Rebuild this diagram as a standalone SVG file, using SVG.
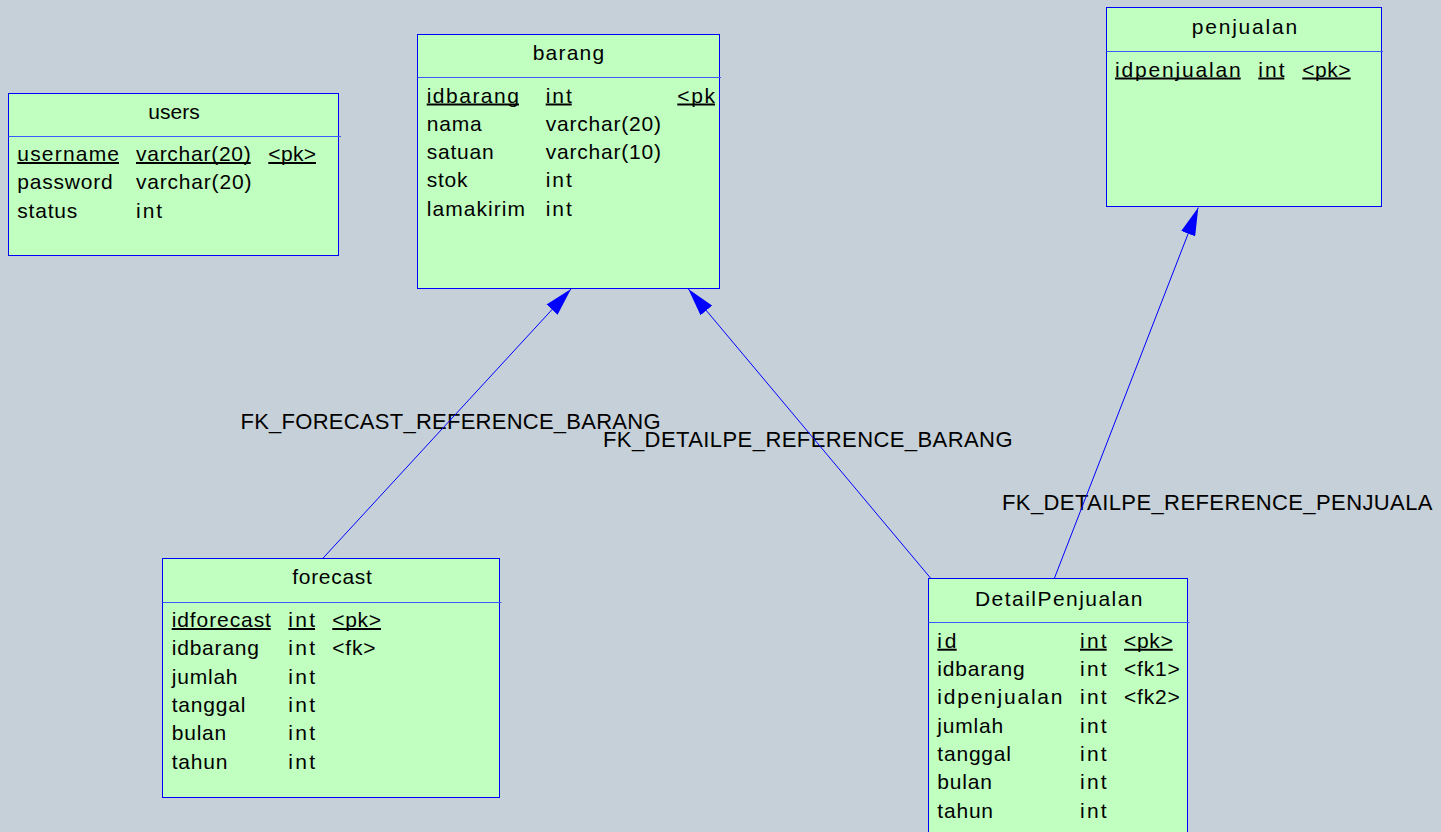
<svg xmlns="http://www.w3.org/2000/svg" width="1441" height="832" viewBox="0 0 1441 832">
  <defs>
    <style>
      .bg { fill: #C6D0D8; }
      .tbl { fill: #C0FFC0; stroke: #0000FF; stroke-width: 1; }
      .sep { stroke: #3A5CFF; stroke-width: 1; }
      .t { font-family: "Liberation Sans", Arial, sans-serif; font-size: 21px; fill: #000; letter-spacing: 0.8px; }
      .title { font-family: "Liberation Sans", Arial, sans-serif; font-size: 21px; fill: #000; }
      .lbl { font-family: "Liberation Sans", Arial, sans-serif; font-size: 22px; fill: #000; }
      .ul { stroke: #000; stroke-width: 2; }
      .fk { stroke: #0000FF; stroke-width: 1; fill: none; marker-end: url(#arrow); }
    </style>
    <marker id="arrow" markerUnits="userSpaceOnUse" viewBox="0 0 28 15" markerWidth="28" markerHeight="15" refX="28" refY="7.5" orient="auto">
      <path d="M0,0 L28,7.5 L0,15 z" fill="#0000FF"/>
    </marker>
  </defs>

  <rect class="bg" x="0" y="0" width="1441" height="832"/>

  <!-- references: labels first, lines on top -->
  <g id="connectors">
    <text class="lbl" x="240.5" y="429" textLength="420" lengthAdjust="spacing">FK_FORECAST_REFERENCE_BARANG</text>
    <text class="lbl" x="603" y="446.7" textLength="409.5" lengthAdjust="spacing">FK_DETAILPE_REFERENCE_BARANG</text>
    <text class="lbl" x="1002" y="510" textLength="430.5" lengthAdjust="spacing">FK_DETAILPE_REFERENCE_PENJUALA</text>
    <line id="FK_FORECAST_REFERENCE_BARANG" class="fk" x1="322.7" y1="558.5" x2="571" y2="289"/>
    <line id="FK_DETAILPE_REFERENCE_BARANG" class="fk" x1="930.5" y1="578" x2="688.3" y2="289"/>
    <line id="FK_DETAILPE_REFERENCE_PENJUALA" class="fk" x1="1054.3" y1="578.5" x2="1198.3" y2="207.5"/>
  </g>

  <!-- users -->
  <g id="users">
    <rect class="tbl" x="8.5" y="93.5" width="330" height="162"/>
    <line class="sep" x1="8.5" y1="136.5" x2="341" y2="136.5"/>
    <text class="title" x="148.3" y="119.3" textLength="51.5" lengthAdjust="spacing">users</text>
    <text class="t" x="17.3" y="161" textLength="102.5" lengthAdjust="spacing">username</text>
    <text class="t" x="136" y="161" textLength="115.5" lengthAdjust="spacing">varchar(20)</text>
    <text class="t" x="268.3" y="161" textLength="48.5" lengthAdjust="spacing">&lt;pk&gt;</text>
    <line class="ul" x1="17.3" y1="163" x2="119" y2="163"/>
    <line class="ul" x1="136" y1="163" x2="250.7" y2="163"/>
    <line class="ul" x1="268.3" y1="163" x2="316" y2="163"/>
    <text class="t" x="17.3" y="189.3">password</text>
    <text class="t" x="136" y="189.3">varchar(20)</text>
    <text class="t" x="17.3" y="217.6">status</text>
    <text class="t" x="136" y="217.6" textLength="27" lengthAdjust="spacing">int</text>
  </g>

  <!-- barang -->
  <g id="barang">
    <rect class="tbl" x="417.5" y="34.5" width="302" height="254"/>
    <line class="sep" x1="417.5" y1="77.5" x2="721" y2="77.5"/>
    <text class="title" x="532.7" y="60" textLength="71.5" lengthAdjust="spacing">barang</text>
    <text class="t" x="426.7" y="102.5" textLength="93" lengthAdjust="spacing">idbarang</text>
    <text class="t" x="545.7" y="102.5" textLength="27" lengthAdjust="spacing">int</text>
    <text class="t" x="677.3" y="102.5" textLength="38.5" lengthAdjust="spacing">&lt;pk</text>
    <line class="ul" x1="426.7" y1="104.5" x2="519" y2="104.5"/>
    <line class="ul" x1="545.7" y1="104.5" x2="571.7" y2="104.5"/>
    <line class="ul" x1="677.3" y1="104.5" x2="715" y2="104.5"/>
    <text class="t" x="426.7" y="130.8">nama</text>
    <text class="t" x="545.7" y="130.8">varchar(20)</text>
    <text class="t" x="426.7" y="159.1">satuan</text>
    <text class="t" x="545.7" y="159.1">varchar(10)</text>
    <text class="t" x="426.7" y="187.4">stok</text>
    <text class="t" x="545.7" y="187.4" textLength="27" lengthAdjust="spacing">int</text>
    <text class="t" x="426.7" y="215.7" textLength="99" lengthAdjust="spacing">lamakirim</text>
    <text class="t" x="545.7" y="215.7" textLength="27" lengthAdjust="spacing">int</text>
  </g>

  <!-- penjualan -->
  <g id="penjualan">
    <rect class="tbl" x="1106.5" y="7.5" width="275" height="199"/>
    <line class="sep" x1="1106.5" y1="51.5" x2="1383" y2="51.5"/>
    <text class="title" x="1191.7" y="34.3" textLength="105.5" lengthAdjust="spacing">penjualan</text>
    <text class="t" x="1115" y="76.5" textLength="126.5" lengthAdjust="spacing">idpenjualan</text>
    <text class="t" x="1258.3" y="76.5" textLength="27" lengthAdjust="spacing">int</text>
    <text class="t" x="1302.3" y="76.5" textLength="49" lengthAdjust="spacing">&lt;pk&gt;</text>
    <line class="ul" x1="1115" y1="78.5" x2="1240.7" y2="78.5"/>
    <line class="ul" x1="1258.3" y1="78.5" x2="1284.3" y2="78.5"/>
    <line class="ul" x1="1302.3" y1="78.5" x2="1350.7" y2="78.5"/>
  </g>

  <!-- forecast -->
  <g id="forecast">
    <rect class="tbl" x="162.5" y="558.5" width="337" height="239"/>
    <line class="sep" x1="162.5" y1="602.5" x2="501.5" y2="602.5"/>
    <text class="title" x="292.3" y="584.3" textLength="79.5" lengthAdjust="spacing">forecast</text>
    <text class="t" x="171.7" y="627" textLength="100" lengthAdjust="spacing">idforecast</text>
    <text class="t" x="288.3" y="627" textLength="27.5" lengthAdjust="spacing">int</text>
    <text class="t" x="332.3" y="627" textLength="49.5" lengthAdjust="spacing">&lt;pk&gt;</text>
    <line class="ul" x1="171.7" y1="629" x2="270.7" y2="629"/>
    <line class="ul" x1="288.3" y1="629" x2="315" y2="629"/>
    <line class="ul" x1="332.3" y1="629" x2="381" y2="629"/>
    <text class="t" x="171.7" y="655.3">idbarang</text>
    <text class="t" x="288.3" y="655.3" textLength="27.5" lengthAdjust="spacing">int</text>
    <text class="t" x="332.3" y="655.3">&lt;fk&gt;</text>
    <text class="t" x="171.7" y="683.6">jumlah</text>
    <text class="t" x="288.3" y="683.6" textLength="27.5" lengthAdjust="spacing">int</text>
    <text class="t" x="171.7" y="712">tanggal</text>
    <text class="t" x="288.3" y="712" textLength="27.5" lengthAdjust="spacing">int</text>
    <text class="t" x="171.7" y="740.3">bulan</text>
    <text class="t" x="288.3" y="740.3" textLength="27.5" lengthAdjust="spacing">int</text>
    <text class="t" x="171.7" y="768.6">tahun</text>
    <text class="t" x="288.3" y="768.6" textLength="27.5" lengthAdjust="spacing">int</text>
  </g>

  <!-- DetailPenjualan (continues below the visible area) -->
  <g id="DetailPenjualan">
    <rect class="tbl" x="928.5" y="578.5" width="259" height="300"/>
    <line class="sep" x1="928.5" y1="622.5" x2="1189.5" y2="622.5"/>
    <text class="title" x="975" y="606" textLength="167.5" lengthAdjust="spacing">DetailPenjualan</text>
    <text class="t" x="937.3" y="647.7" textLength="20" lengthAdjust="spacing">id</text>
    <text class="t" x="1080" y="647.7" textLength="27.5" lengthAdjust="spacing">int</text>
    <text class="t" x="1124" y="647.7" textLength="49.5" lengthAdjust="spacing">&lt;pk&gt;</text>
    <line class="ul" x1="937.3" y1="649.7" x2="956.7" y2="649.7"/>
    <line class="ul" x1="1080" y1="649.7" x2="1106.7" y2="649.7"/>
    <line class="ul" x1="1124" y1="649.7" x2="1172.7" y2="649.7"/>
    <text class="t" x="937.3" y="676">idbarang</text>
    <text class="t" x="1080" y="676" textLength="27.5" lengthAdjust="spacing">int</text>
    <text class="t" x="1124" y="676">&lt;fk1&gt;</text>
    <text class="t" x="937.3" y="704.3" textLength="126" lengthAdjust="spacing">idpenjualan</text>
    <text class="t" x="1080" y="704.3" textLength="27.5" lengthAdjust="spacing">int</text>
    <text class="t" x="1124" y="704.3">&lt;fk2&gt;</text>
    <text class="t" x="937.3" y="732.6">jumlah</text>
    <text class="t" x="1080" y="732.6" textLength="27.5" lengthAdjust="spacing">int</text>
    <text class="t" x="937.3" y="760.9">tanggal</text>
    <text class="t" x="1080" y="760.9" textLength="27.5" lengthAdjust="spacing">int</text>
    <text class="t" x="937.3" y="789.2">bulan</text>
    <text class="t" x="1080" y="789.2" textLength="27.5" lengthAdjust="spacing">int</text>
    <text class="t" x="937.3" y="817.5">tahun</text>
    <text class="t" x="1080" y="817.5" textLength="27.5" lengthAdjust="spacing">int</text>
  </g>
</svg>
